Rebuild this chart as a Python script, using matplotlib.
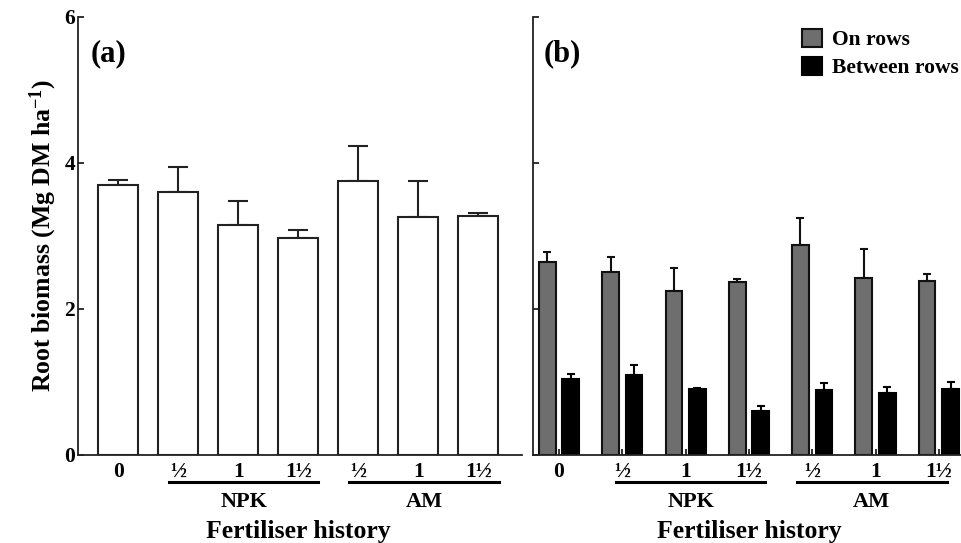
import numpy as np
import matplotlib
matplotlib.use("Agg")
from matplotlib import pyplot as plt
from matplotlib.patches import Patch

plt.rcParams['font.family'] = ['Liberation Serif', 'DejaVu Serif']
plt.rcParams['font.weight'] = 'bold'
plt.rcParams['mathtext.fontset'] = 'custom'
plt.rcParams['mathtext.rm'] = 'Liberation Serif:bold'
plt.rcParams['mathtext.it'] = 'Liberation Serif:bold'
plt.rcParams['mathtext.bf'] = 'Liberation Serif:bold'

# data
labels = ['0', '½', '1', '1½', '½', '1', '1½']
groups = ['NPK', 'AM']

total = [3.70, 3.60, 3.15, 2.97, 3.75, 3.26, 3.28]
total_err = [0.07, 0.34, 0.33, 0.11, 0.48, 0.49, 0.03]

on_rows = [2.65, 2.51, 2.25, 2.37, 2.87, 2.42, 2.38]
on_rows_err = [0.13, 0.20, 0.31, 0.04, 0.38, 0.40, 0.10]

between_rows = [1.04, 1.10, 0.91, 0.60, 0.89, 0.85, 0.90]
between_rows_err = [0.07, 0.13, 0.01, 0.07, 0.10, 0.08, 0.10]

W, H = 962, 543
fig = plt.figure(figsize=(W / 100, H / 100), dpi=100)
axa = fig.add_axes([78 / W, 88 / H, (522 - 78) / W, 438 / H])
axb = fig.add_axes([532.7 / W, 88 / H, (W - 532.7) / W, 438 / H])

x = np.arange(len(labels))
lw = 1.5

axa.bar(x, total, width=0.667, color='white', edgecolor='#222222', linewidth=lw, zorder=2)
axa.errorbar(x, total, yerr=[np.zeros(len(x)), total_err], fmt='none', ecolor='#222222',
             elinewidth=lw, capsize=7.2, capthick=lw, zorder=1)

off = 0.185
bw = 0.263
axb.bar(x - off, on_rows, width=bw, color='#6e6e6e', edgecolor='#111111', linewidth=lw,
        zorder=2, label='On rows')
axb.bar(x + off, between_rows, width=bw, color='black', edgecolor='black', linewidth=lw,
        zorder=2, label='Between rows')
axb.errorbar(x - off, on_rows, yerr=[np.zeros(len(x)), on_rows_err], fmt='none',
             ecolor='#111111', elinewidth=lw, capsize=3.1, capthick=lw, zorder=1)
axb.errorbar(x + off, between_rows, yerr=[np.zeros(len(x)), between_rows_err], fmt='none',
             ecolor='black', elinewidth=lw, capsize=3.1, capthick=lw, zorder=1)

axa.set_xlim(-0.672, 6.728)
axb.set_xlim(-0.415, 6.366)

lines_a = [(0.845, 3.33), (3.845, 6.35)]
lines_b = [(0.90, 3.26), (3.755, 6.125)]

for ax, spans in ((axa, lines_a), (axb, lines_b)):
    ax.set_ylim(0, 6)
    ax.set_yticks([0, 2, 4, 6])
    ax.set_xticks(x)
    ax.set_xticklabels(labels, fontsize=15.5, fontweight='bold')
    ax.spines['top'].set_visible(False)
    ax.spines['right'].set_visible(False)
    ax.spines['left'].set_linewidth(1.3)
    ax.spines['bottom'].set_linewidth(1.3)
    ax.spines['left'].set_color('#222222')
    ax.spines['bottom'].set_color('#222222')
    ax.tick_params(axis='both', direction='in', length=4, width=1.3, color='#222222')
    ax.tick_params(axis='x', pad=5)
    ax.tick_params(axis='y', pad=2, labelsize=15.5)
    tr = ax.get_xaxis_transform()
    for (x0, x1), g in zip(spans, groups):
        ax.plot([x0, x1], [-0.061, -0.061], color='black', lw=2.2, transform=tr, clip_on=False)
        ax.text((x0 + x1) / 2, -0.0845, g, transform=tr, ha='center', va='top',
                fontsize=16, fontweight='bold')
    ax.text(3, -0.148, 'Fertiliser history', transform=tr, ha='center', va='top',
            fontsize=18.5, fontweight='bold')

axb.set_yticklabels([])
axa.set_ylabel('Root biomass (Mg DM ha$^{-1}$)', fontsize=18.5, fontweight='bold', labelpad=4)

fig.text(91 / W, 1 - 53.4 / H, '(a)', fontsize=22, fontweight='bold', va='center', ha='left')
fig.text(544 / W, 1 - 53.4 / H, '(b)', fontsize=22, fontweight='bold', va='center', ha='left')

handles = [Patch(facecolor='#6e6e6e', edgecolor='#111111', linewidth=lw, label='On rows'),
           Patch(facecolor='black', edgecolor='black', linewidth=lw, label='Between rows')]
fig.legend(handles=handles, loc='upper left', bbox_to_anchor=(801.7 / W, 1 - 29 / H),
           frameon=False, handlelength=0.93, handleheight=0.9,
           handletextpad=0.47, labelspacing=0.3, borderpad=0, borderaxespad=0,
           prop={'weight': 'bold', 'size': 15.5})

fig.savefig('out.png', dpi=100)
